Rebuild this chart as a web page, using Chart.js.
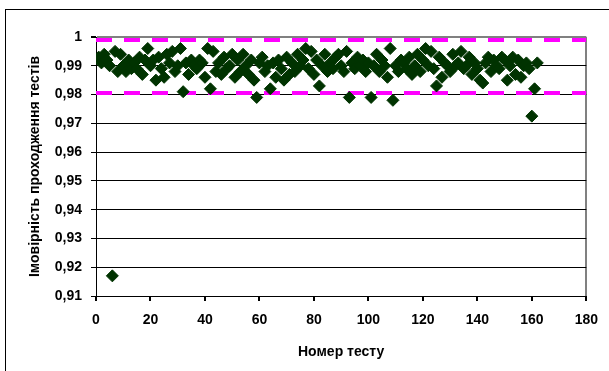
<!DOCTYPE html>
<html>
<head>
<meta charset="utf-8">
<script src="https://cdn.jsdelivr.net/npm/chart.js@4.4.0/dist/chart.umd.min.js"></script>
<style>
  body { margin: 0; background: #fff; }
  canvas { display: block; }
</style>
</head>
<body>
<canvas id="chart" width="609" height="371"></canvas>
<script>
// ймовірність проходження для кожного тесту (тест №1 ... №162)
const probabilities = [
  0.993, 0.991, 0.994, 0.992, 0.990, 0.917, 0.995, 0.988, 0.994, 0.990,
  0.988, 0.992, 0.989, 0.991, 0.989, 0.993, 0.987, 0.992, 0.996, 0.990,
  0.992, 0.985, 0.993, 0.989, 0.986, 0.994, 0.991, 0.995, 0.988, 0.990,
  0.996, 0.981, 0.991, 0.987, 0.992, 0.990, 0.989, 0.992, 0.991, 0.986,
  0.996, 0.982, 0.995, 0.988, 0.991, 0.987, 0.993, 0.989, 0.990, 0.994,
  0.986, 0.992, 0.988, 0.994, 0.990, 0.987, 0.992, 0.985, 0.979, 0.991,
  0.993, 0.988, 0.990, 0.982, 0.991, 0.986, 0.992, 0.989, 0.985, 0.993,
  0.987, 0.991, 0.988, 0.994, 0.990, 0.992, 0.996, 0.989, 0.995, 0.987,
  0.992, 0.983, 0.990, 0.994, 0.988, 0.991, 0.989, 0.993, 0.994, 0.990,
  0.988, 0.995, 0.979, 0.991, 0.989, 0.993, 0.990, 0.992, 0.988, 0.991,
  0.979, 0.990, 0.994, 0.988, 0.992, 0.990, 0.986, 0.996, 0.978, 0.990,
  0.988, 0.992, 0.991, 0.989, 0.993, 0.987, 0.990, 0.994, 0.988, 0.992,
  0.996, 0.990, 0.995, 0.989, 0.983, 0.993, 0.986, 0.991, 0.990, 0.988,
  0.994, 0.990, 0.991, 0.995, 0.989, 0.990, 0.993, 0.987, 0.991, 0.989,
  0.985, 0.984, 0.991, 0.993, 0.988, 0.992, 0.990, 0.989, 0.993, 0.992,
  0.985, 0.990, 0.993, 0.987, 0.992, 0.986, 0.990, 0.991, 0.989, 0.9725,
  0.982, 0.991
];

// межі (пунктирні лінії)
const upperLimit = 0.999;
const lowerLimit = 0.9805;

const xMin = 0, xMax = 180, xStep = 20;
const yMin = 0.91, yMax = 1, yStep = 0.01;

const points = probabilities.map((p, i) => ({ x: i + 1, y: p }));

const outerBorder = {
  id: 'outerBorder',
  beforeDraw(chart) {
    const ctx = chart.ctx;
    ctx.save();
    ctx.fillStyle = '#fff';
    ctx.fillRect(0, 0, chart.width, chart.height);
    ctx.strokeStyle = '#000';
    ctx.lineWidth = 1;
    ctx.strokeRect(5.5, 9.5, 700, 500);
    ctx.restore();
  }
};

const font = { family: 'Arial, "Liberation Sans", sans-serif', weight: 'bold' };

new Chart(document.getElementById('chart'), {
  type: 'scatter',
  data: {
    datasets: [
      {
        data: points,
        backgroundColor: '#003300',
        borderColor: '#003300',
        borderWidth: 1,
        pointStyle: 'rectRot',
        pointRadius: 6,
        order: 0
      },
      {
        type: 'line',
        data: [{ x: xMin, y: upperLimit }, { x: xMax, y: upperLimit }],
        borderColor: '#ff00ff',
        borderWidth: 4,
        borderDash: [16, 12],
        pointRadius: 0,
        order: 1
      },
      {
        type: 'line',
        data: [{ x: xMin, y: lowerLimit }, { x: xMax, y: lowerLimit }],
        borderColor: '#ff00ff',
        borderWidth: 4,
        borderDash: [16, 12],
        pointRadius: 0,
        order: 1
      }
    ]
  },
  options: {
    responsive: false,
    animation: false,
    layout: { padding: { left: 0, top: 37, right: 20, bottom: 0 } },
    plugins: { legend: { display: false }, tooltip: { enabled: false } },
    scales: {
      x: {
        type: 'linear',
        min: xMin,
        max: xMax,
        ticks: { stepSize: xStep, color: '#000', padding: 11, font: { ...font, size: 14 }, maxRotation: 0 },
        grid: {
          color: c => (c.tick && c.tick.value === xMax ? '#808080' : 'rgba(0,0,0,0)'),
          tickColor: '#000',
          tickLength: 5,
          lineWidth: 2
        },
        border: { color: '#000', width: 1 },
        title: {
          display: true,
          text: 'Номер тесту',
          color: '#000',
          font: { ...font, size: 14 },
          padding: { top: 0, bottom: 10 }
        },
        afterFit: s => { s.height = 75; }
      },
      y: {
        min: yMin,
        max: yMax,
        ticks: {
          stepSize: yStep,
          color: '#000',
          padding: 9,
          font: { ...font, size: 14 },
          callback: v => {
            const r = Math.round(v * 100) / 100;
            return r === 1 ? '1' : r.toFixed(2).replace('.', ',');
          }
        },
        grid: {
          color: c => (c.tick && Math.abs(c.tick.value - yMax) < 1e-6 ? '#808080' : '#000'),
          tickColor: '#000',
          tickLength: 5,
          lineWidth: c => (c.tick && Math.abs(c.tick.value - yMax) < 1e-6 ? 2 : 1)
        },
        border: { color: '#000', width: 1 },
        title: {
          display: true,
          text: 'Імовірність проходження тестів',
          color: '#000',
          font: { ...font, size: 14 },
          padding: { top: 27, bottom: 0 }
        },
        afterFit: s => { s.width = 96; }
      }
    }
  },
  plugins: [outerBorder]
});
</script>
</body>
</html>
